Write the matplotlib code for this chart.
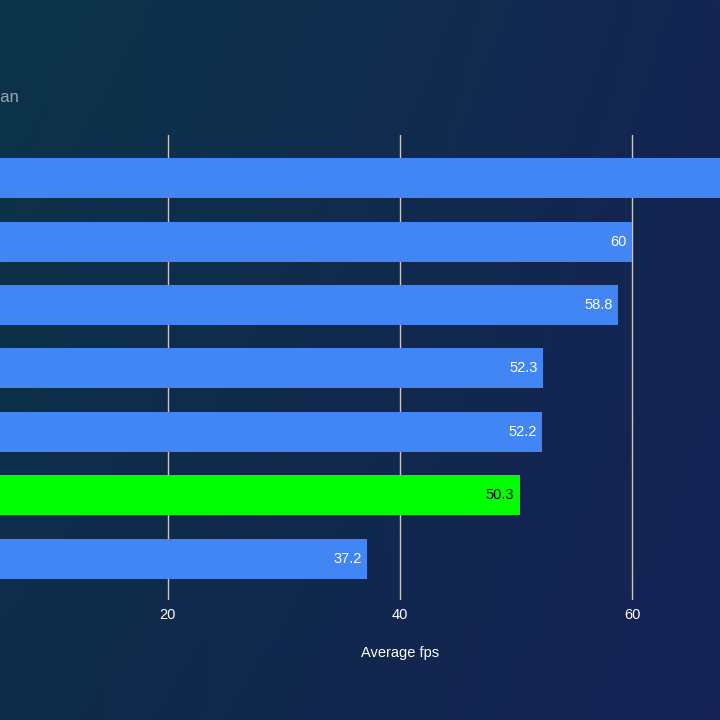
import numpy as np
import matplotlib
matplotlib.use("Agg")
import matplotlib.pyplot as plt

plt.rcParams["font.family"] = ["Liberation Sans", "DejaVu Sans"]

categories = ["GPU A", "GPU B", "GPU C", "GPU D", "GPU E", "GPU F", "GPU G"]
values = [75.0, 60.0, 58.8, 52.3, 52.2, 50.3, 37.2]
value_labels = ["75", "60", "58.8", "52.3", "52.2", "50.3", "37.2"]
highlight = "GPU F"
xticks = [20, 40, 60]

fig = plt.figure(figsize=(7.2, 7.2), dpi=100)

# gradient background
bg = fig.add_axes([0, 0, 1, 1], zorder=-10)
bg.set_axis_off()
xx, yy = np.meshgrid(np.linspace(0, 1, 200), np.linspace(0, 1, 200))
c_tl = np.array([11, 52, 72]) / 255
c_tr = np.array([20, 38, 82]) / 255
c_bl = np.array([14, 44, 72]) / 255
c_br = np.array([22, 34, 86]) / 255
img = (c_tl[None, None, :] * ((1 - xx) * (1 - yy))[..., None]
       + c_tr[None, None, :] * (xx * (1 - yy))[..., None]
       + c_bl[None, None, :] * ((1 - xx) * yy)[..., None]
       + c_br[None, None, :] * (xx * yy)[..., None])
bg.imshow(img, extent=[0, 1, 0, 1], aspect="auto", origin="upper")
bg.set_xlim(0, 1)
bg.set_ylim(0, 1)

ax = fig.add_axes([-64.5 / 720, 1 - 600 / 720, 929 / 720, 465 / 720])
ax.patch.set_alpha(0)
y = np.arange(len(categories))
colors = ["#00ff00" if c == highlight else "#4285f4" for c in categories]
ax.barh(y, values, height=0.63, color=colors, zorder=3)
for yi, v, lab, c in zip(y, values, value_labels, colors):
    if v < 67:
        ax.text(v - 0.45, yi, lab, ha="right", va="center", fontsize=10.5,
                color="black" if c == "#00ff00" else "white", zorder=4)
ax.set_ylim(len(categories) - 1 + 0.65, -0.68)
ax.set_xlim(0, 80)
ax.set_xticks(xticks)
ax.set_xticklabels([str(t) for t in xticks], color="white", fontsize=10.5)
ax.set_yticks(y)
ax.set_yticklabels([])
ax.tick_params(length=0, pad=6)
ax.grid(axis="x", color="#c8c8c8", linewidth=1, zorder=1)
for s in ax.spines.values():
    s.set_visible(False)
ax.set_xlabel("Average fps", color="white", fontsize=10.5, labelpad=17)

fig.text(19 / 720, 1 - 98 / 720, "Median", ha="right", va="center",
         fontsize=12, color="#9aa3ad")

fig.savefig("out.png", dpi=100)
